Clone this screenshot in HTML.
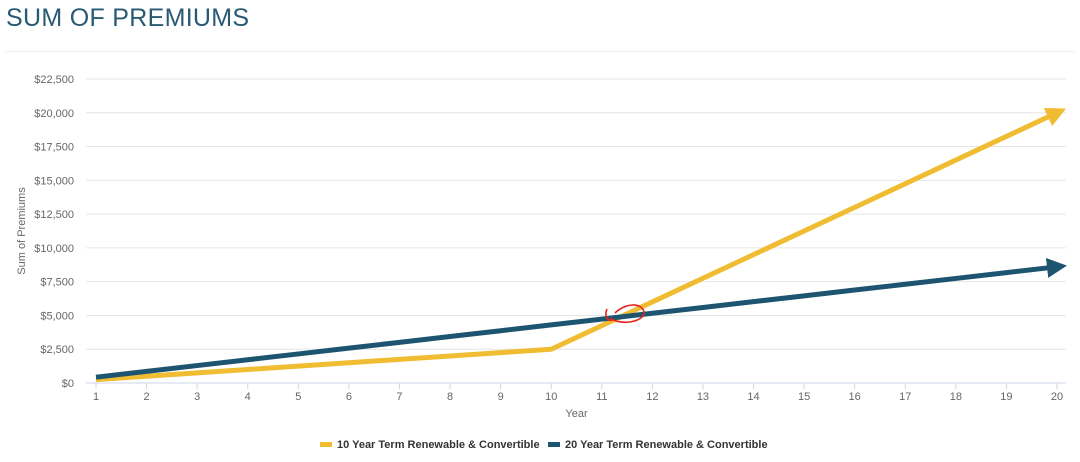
<!DOCTYPE html>
<html><head><meta charset="utf-8"><style>
body{margin:0;width:1080px;height:462px;background:#fff;font-family:"Liberation Sans",sans-serif;overflow:hidden}
#title{position:absolute;left:6px;top:4px;font-size:25px;color:#285a74;letter-spacing:0.3px}
#rule{position:absolute;left:6px;right:6px;top:51px;height:1px;background:#eee}
svg{position:absolute;left:0;top:0}
</style></head><body>
<div id="title">SUM OF PREMIUMS</div>
<div id="rule"></div>
<svg id="chart" width="1080" height="462"></svg>
<script>
const years=[1,2,3,4,5,6,7,8,9,10,11,12,13,14,15,16,17,18,19,20];
const term10=[250,500,750,1000,1250,1500,1750,2000,2250,2500,4250,6000,7750,9500,11250,13000,14750,16500,18250,20000];
const term20=[430,860,1290,1720,2150,2580,3010,3440,3870,4300,4730,5160,5590,6020,6450,6880,7310,7740,8170,8600];
const yTicks=[0,2500,5000,7500,10000,12500,15000,17500,20000,22500];
const yLabels=["$0","$2,500","$5,000","$7,500","$10,000","$12,500","$15,000","$17,500","$20,000","$22,500"];
const seriesNames=["10 Year Term Renewable & Convertible","20 Year Term Renewable & Convertible"];
const NS="http://www.w3.org/2000/svg";
const svg=document.getElementById('chart');
const X0=96,X1=1057,Y0=383,Y1=79,L=86,R=1066;
const xs=v=>X0+(v-1)*(X1-X0)/19;
const ys=v=>Y0-v*(Y0-Y1)/22500;
function mk(t,a){const e=document.createElementNS(NS,t);for(const k in a)e.setAttribute(k,a[k]);svg.appendChild(e);return e;}
const defs=mk('defs',{});
defs.innerHTML='<marker id="aY" markerWidth="4" markerHeight="4" refX="2" refY="2" orient="auto" markerUnits="strokeWidth"><path d="M0,0L4,2L0,4z" fill="#f0bc32"/></marker><marker id="aB" markerWidth="4" markerHeight="4" refX="2" refY="2" orient="auto" markerUnits="strokeWidth"><path d="M0,0L4,2L0,4z" fill="#1d5570"/></marker>';
yTicks.forEach((t,i)=>{
 const g=mk('line',{x1:L,x2:R,y1:ys(t),y2:ys(t),stroke:i==0?'#ccd6eb':'#e6e6e6','stroke-width':1});
 
 
 const tx=mk('text',{x:74,y:ys(t)+4,'text-anchor':'end','font-size':11,fill:'#666'});
 tx.textContent=yLabels[i];
 
 
});
years.forEach(y=>{
 const tk=mk('line',{x1:xs(y),x2:xs(y),y1:Y0,y2:Y0+6,stroke:'#ccd6eb'});
 
 
 const tx=mk('text',{x:xs(y),y:Y0+17,'text-anchor':'middle','font-size':11,fill:'#666'});
 tx.textContent=y;
 
 
});
const xt=mk('text',{x:(X0+X1)/2,y:417,'text-anchor':'middle','font-size':11,fill:'#666'});
xt.textContent='Year';


const yt=mk('text',{x:0,y:0,'text-anchor':'middle','font-size':11,fill:'#666',transform:'translate(25,231) rotate(-90)'});
yt.textContent='Sum of Premiums';


function series(vals,col,mark,name){
 const p=mk('polyline',{points:years.map((y,i)=>xs(y)+','+ys(vals[i])).join(' '),fill:'none',stroke:col,'stroke-width':5,'stroke-linejoin':'round','marker-end':'url(#'+mark+')'});
 
 
}
series(term10,'#f0bc32','aY','series-10-year-term');
series(term20,'#1d5570','aB','series-20-year-term');
const an=mk('path',{d:'M607,309 C604,316 608,322 612,320 M610,318 C620,326 645,322 644,312 C642,302 625,303 615,313',fill:'none',stroke:'#e8221d','stroke-width':1.6});


const leg=[[320,'#f0bc32',seriesNames[0]],[548,'#1d5570',seriesNames[1]]];
leg.forEach(([x,c,t],i)=>{
 const r=mk('rect',{x:x,y:442,width:12,height:5,fill:c});
 
 
 const tx=mk('text',{x:x+17,y:448,'font-size':11,'font-weight':'bold',fill:'#333'});
 tx.textContent=t;
 
 
});
</script>
</body></html>
